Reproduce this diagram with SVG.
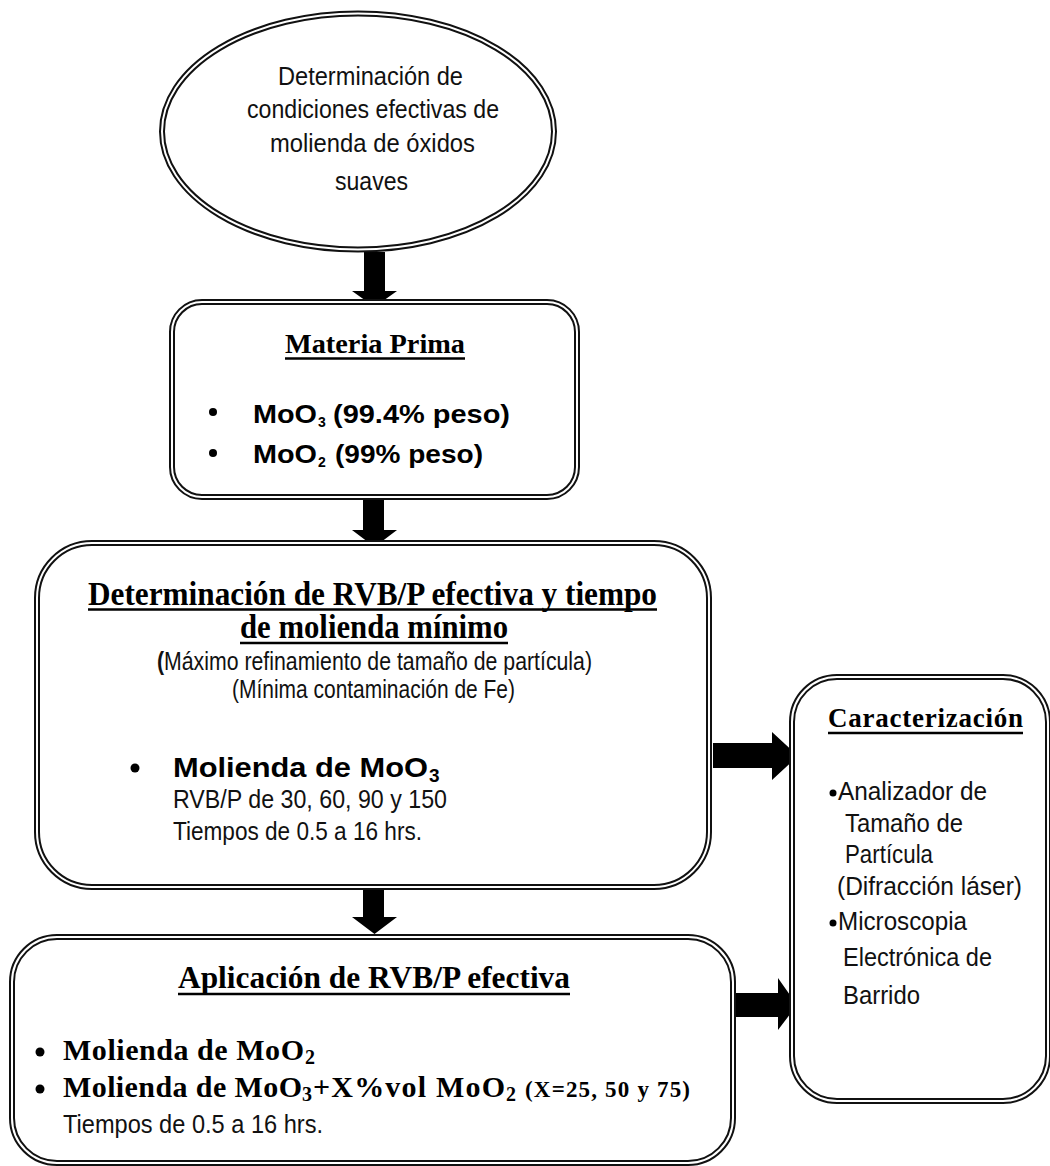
<svg xmlns="http://www.w3.org/2000/svg" width="1050" height="1166" viewBox="0 0 1050 1166">
<style>
.fo{fill:#fff;stroke:#111;stroke-width:6}
.fi{fill:none;stroke:#fff;stroke-width:2}
.arr{fill:#000}
.n{font-family:"Liberation Sans Narrow","Liberation Sans",Arial,sans-serif;font-size:25px;fill:#111}
.sb{font-family:"Liberation Sans",Arial,sans-serif;font-weight:bold;fill:#000}
.sf{font-family:"Liberation Serif","Times New Roman",serif;font-weight:bold;fill:#000}
.ul{stroke:#000;stroke-width:2.5}
.dot{fill:#000}
</style>
<rect width="1050" height="1166" fill="#fff"/>
<g id="connectors">
<polygon class="arr" points="364,252 385,252 385,291 397,291 374.5,307 352,291 364,291"/>
<polygon class="arr" points="363,497 384,497 384,530 397,530 374.5,547 352,530 363,530"/>
<polygon class="arr" points="363,887 384,887 384,917 397,917 374.5,934 352,917 363,917"/>
<polygon class="arr" points="713,743 772,743 772,732 798,756 772,780 772,768 713,768"/>
<polygon class="arr" points="733,993 778,993 778,978 797,1005 778,1030 778,1017 733,1017"/>
</g>
<g id="inicio">
<ellipse class="fo" cx="358" cy="131.5" rx="196" ry="118"/>
<ellipse class="fi" cx="358" cy="131.5" rx="196" ry="118"/>
<text class="n" x="278" y="85" font-size="27" textLength="185" lengthAdjust="spacingAndGlyphs">Determinación de</text>
<text class="n" x="247" y="118" font-size="27" textLength="252" lengthAdjust="spacingAndGlyphs">condiciones efectivas de</text>
<text class="n" x="270" y="152" font-size="27" textLength="205" lengthAdjust="spacingAndGlyphs">molienda de óxidos</text>
<text class="n" x="335" y="190" font-size="27" textLength="73" lengthAdjust="spacingAndGlyphs">suaves</text>
</g>
<g id="materia-prima">
<rect class="fo" x="172" y="302" width="405" height="195" rx="30"/>
<rect class="fi" x="172" y="302" width="405" height="195" rx="30"/>
<text class="sf" x="285" y="353" font-size="28" textLength="180" lengthAdjust="spacingAndGlyphs">Materia Prima</text>
<line class="ul" x1="285" y1="358.5" x2="465" y2="358.5" stroke-width="1.5"/>
<circle class="dot" cx="213" cy="412" r="4"/>
<text class="sb" x="253" y="423" font-size="25" textLength="64" lengthAdjust="spacingAndGlyphs">MoO</text>
<text class="sb" x="318" y="427" font-size="14" font-weight="normal">3</text>
<text class="sb" x="333" y="423" font-size="25" textLength="177" lengthAdjust="spacingAndGlyphs">(99.4% peso)</text>
<circle class="dot" cx="213" cy="453" r="4"/>
<text class="sb" x="253" y="463" font-size="25" textLength="64" lengthAdjust="spacingAndGlyphs">MoO</text>
<text class="sb" x="318" y="467" font-size="14" font-weight="normal">2</text>
<text class="sb" x="335" y="463" font-size="25" textLength="148" lengthAdjust="spacingAndGlyphs">(99% peso)</text>
</g>
<g id="determinacion">
<rect class="fo" x="37" y="543" width="672" height="344" rx="55"/>
<rect class="fi" x="37" y="543" width="672" height="344" rx="55"/>
<text class="sf" x="88" y="605" font-size="33" textLength="569" lengthAdjust="spacingAndGlyphs">Determinación de RVB/P efectiva y tiempo</text>
<line class="ul" x1="88" y1="609.5" x2="657" y2="609.5"/>
<text class="sf" x="240" y="638" font-size="33" textLength="268" lengthAdjust="spacingAndGlyphs">de molienda mínimo</text>
<line class="ul" x1="240" y1="643" x2="508" y2="643"/>
<text class="n" x="157" y="670" font-size="22" textLength="435" lengthAdjust="spacingAndGlyphs"><tspan font-weight="bold">(</tspan>Máximo refinamiento de tamaño de partícula)</text>
<text class="n" x="232" y="698" font-size="22" textLength="283" lengthAdjust="spacingAndGlyphs">(Mínima contaminación de Fe)</text>
<circle class="dot" cx="135" cy="768" r="4.5"/>
<text class="sb" x="173" y="777" font-size="28" textLength="255" lengthAdjust="spacingAndGlyphs">Molienda de MoO</text>
<text class="sb" x="429" y="782" font-size="19">3</text>
<text class="n" x="173" y="808" font-size="26" textLength="274" lengthAdjust="spacingAndGlyphs">RVB/P de 30, 60, 90 y 150</text>
<text class="n" x="173" y="840" font-size="26" textLength="249" lengthAdjust="spacingAndGlyphs">Tiempos de 0.5 a 16 hrs.</text>
</g>
<g id="aplicacion">
<rect class="fo" x="12" y="937" width="721" height="226" rx="45"/>
<rect class="fi" x="12" y="937" width="721" height="226" rx="45"/>
<text class="sf" x="178" y="988" font-size="32" textLength="392" lengthAdjust="spacingAndGlyphs">Aplicación de RVB/P efectiva</text>
<line class="ul" x1="178" y1="994" x2="570" y2="994"/>
<circle class="dot" cx="40" cy="1052" r="4.5"/>
<text class="sf" x="63" y="1060" font-size="30" textLength="241" lengthAdjust="spacing">Molienda de MoO</text>
<text class="sf" x="305" y="1064" font-size="20">2</text>
<circle class="dot" cx="40" cy="1089" r="4.5"/>
<text class="sf" x="63" y="1097" font-size="30" textLength="239" lengthAdjust="spacing">Molienda de MoO</text>
<text class="sf" x="302" y="1101" font-size="20">3</text>
<text class="sf" x="313" y="1097" font-size="30" textLength="192" lengthAdjust="spacing">+X%vol MoO</text>
<text class="sf" x="506" y="1101" font-size="20">2</text>
<text class="sf" x="525" y="1097" font-size="23" textLength="165" lengthAdjust="spacing">(X=25, 50 y 75)</text>
<text class="n" x="63" y="1133" textLength="260" lengthAdjust="spacingAndGlyphs">Tiempos de 0.5 a 16 hrs.</text>
</g>
<g id="caracterizacion">
<rect class="fo" x="792" y="677" width="256" height="424" rx="45"/>
<rect class="fi" x="792" y="677" width="256" height="424" rx="45"/>
<text class="sf" x="828" y="727" font-size="27" textLength="195" lengthAdjust="spacing">Caracterización</text>
<line class="ul" x1="828" y1="733" x2="1023" y2="733" stroke-width="1.5"/>
<circle class="dot" cx="833" cy="793" r="3.5"/>
<text class="n" x="838" y="800" font-size="23" textLength="149" lengthAdjust="spacingAndGlyphs">Analizador de</text>
<text class="n" x="845" y="832" font-size="23" textLength="118" lengthAdjust="spacingAndGlyphs">Tamaño de</text>
<text class="n" x="845" y="863" font-size="23" textLength="88" lengthAdjust="spacingAndGlyphs">Partícula</text>
<text class="n" x="837" y="895" font-size="23" textLength="185" lengthAdjust="spacingAndGlyphs">(Difracción láser)</text>
<circle class="dot" cx="833" cy="923" r="3.5"/>
<text class="n" x="838" y="930" font-size="23" textLength="129" lengthAdjust="spacingAndGlyphs">Microscopia</text>
<text class="n" x="843" y="966" font-size="23" textLength="149" lengthAdjust="spacingAndGlyphs">Electrónica de</text>
<text class="n" x="843" y="1004" font-size="23" textLength="77" lengthAdjust="spacingAndGlyphs">Barrido</text>
</g>
</svg>
